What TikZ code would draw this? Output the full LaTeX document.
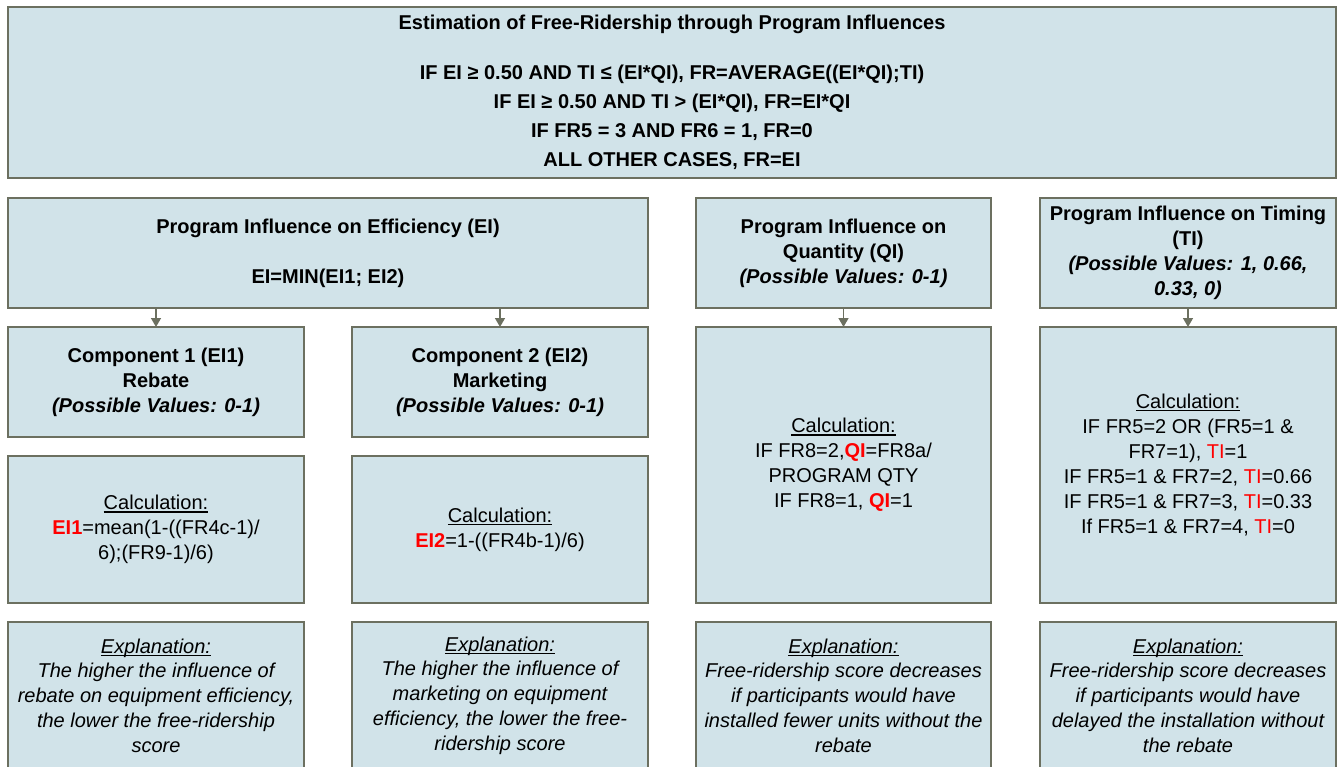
\documentclass[tikz,border=0pt]{standalone}
\usepackage{fontspec}
\setmainfont{Liberation Sans}
\usetikzlibrary{arrows.meta, positioning}
\definecolor{boxfill}{RGB}{209,227,233}
\definecolor{boxline}{RGB}{108,112,96}
\definecolor{rouge}{RGB}{255,0,0}
\newcommand{\rv}[1]{\textcolor{rouge}{\textbf{#1}}}
\newcommand{\rn}[1]{\textcolor{rouge}{#1}}
\newcommand{\souligne}[1]{\setbox0=\hbox{#1}\rlap{\rule[-3pt]{\wd0}{1.3pt}}\box0}

\begin{document}
\begin{tikzpicture}[x=1pt,y=-1pt,
  boite/.style={draw=boxline, line width=1.5pt, fill=boxfill, inner sep=0pt, outer sep=0pt, align=center, font=\fontsize{20}{25}\selectfont},
  fleche/.style={draw=boxline, line width=1.5pt, -{Triangle[length=9pt,width=10pt]}}]
\useasboundingbox (0,0) rectangle (1340,767);

\node[boite, anchor=north west, minimum width=1328, minimum height=171, font=\bfseries\fontsize{20}{29}\selectfont] (FR) at (8,7) {Estimation of Free-Ridership through Program Influences\\[21pt]
IF EI ≥ 0.50 AND TI ≤ (EI*QI), FR=AVERAGE((EI*QI);TI)\\
IF EI ≥ 0.50 AND TI > (EI*QI), FR=EI*QI\\
IF FR5 = 3 AND FR6 = 1, FR=0\\
ALL OTHER CASES, FR=EI};

\node[boite, below=20pt of FR.south west, anchor=north west, minimum width=640, minimum height=110, font=\bfseries\fontsize{20}{25}\selectfont] (EI) {Program Influence on Efficiency (EI)\\[25pt] EI=MIN(EI1; EI2)};
\node[boite, right=48pt of EI.north east, anchor=north west, minimum width=295, minimum height=110, font=\bfseries\fontsize{20}{25}\selectfont] (QI) {Program Influence on\\Quantity (QI)\\\textit{(Possible Values: 0-1)}};
\node[boite, right=49pt of QI.north east, anchor=north west, minimum width=296, minimum height=110, font=\bfseries\fontsize{20}{25}\selectfont] (TI) {Program Influence on Timing\\(TI)\\\textit{(Possible Values: 1, 0.66,}\\\textit{0.33, 0)}};

\node[boite, below=19pt of EI.south west, anchor=north west, minimum width=296, minimum height=110, font=\bfseries\fontsize{20}{25}\selectfont] (C1) {Component 1 (EI1)\\Rebate\\\textit{(Possible Values: 0-1)}};
\node[boite, right=48pt of C1.north east, anchor=north west, minimum width=296, minimum height=110, font=\bfseries\fontsize{20}{25}\selectfont] (C2) {Component 2 (EI2)\\Marketing\\\textit{(Possible Values: 0-1)}};
\node[boite, below=19pt of QI.south west, anchor=north west, minimum width=295, minimum height=276] (Cal3) {\souligne{Calculation:}\\IF FR8=2,\rv{QI}=FR8a/\\PROGRAM QTY\\IF FR8=1, \rv{QI}=1};
\node[boite, below=19pt of TI.south west, anchor=north west, minimum width=296, minimum height=276] (Cal4) {\souligne{Calculation:}\\IF FR5=2 OR (FR5=1 \&\\FR7=1), \rn{TI}=1\\IF FR5=1 \& FR7=2, \rn{TI}=0.66\\IF FR5=1 \& FR7=3, \rn{TI}=0.33\\If FR5=1 \& FR7=4, \rn{TI}=0};

\node[boite, below=19pt of C1.south west, anchor=north west, minimum width=296, minimum height=147] (Cal1) {\souligne{Calculation:}\\\rv{EI1}=mean(1-((FR4c-1)/\\6);(FR9-1)/6)};
\node[boite, below=19pt of C2.south west, anchor=north west, minimum width=296, minimum height=147] (Cal2) {\souligne{Calculation:}\\\rv{EI2}=1-((FR4b-1)/6)};

\node[boite, below=19pt of Cal1.south west, anchor=north west, minimum width=296, minimum height=147, font=\itshape\fontsize{20}{24.75}\selectfont] (Ex1) {\souligne{Explanation:}\\The higher the influence of\\rebate on equipment efficiency,\\the lower the free-ridership\\score};
\node[boite, below=19pt of Cal2.south west, anchor=north west, minimum width=296, minimum height=147, font=\itshape\fontsize{20}{24.75}\selectfont] (Ex2) {\souligne{Explanation:}\\The higher the influence of\\marketing on equipment\\efficiency, the lower the free-\\ridership score};
\node[boite, below=19pt of Cal3.south west, anchor=north west, minimum width=295, minimum height=147, font=\itshape\fontsize{20}{24.75}\selectfont] (Ex3) {\souligne{Explanation:}\\Free-ridership score decreases\\if participants would have\\installed fewer units without the\\rebate};
\node[boite, below=19pt of Cal4.south west, anchor=north west, minimum width=296, minimum height=147, font=\itshape\fontsize{20}{24.75}\selectfont] (Ex4) {\souligne{Explanation:}\\Free-ridership score decreases\\if participants would have\\delayed the installation without\\the rebate};

\draw[fleche] (C1.north |- EI.south) -- (C1.north);
\draw[fleche] (C2.north |- EI.south) -- (C2.north);
\draw[fleche] (QI.south) -- (Cal3.north);
\draw[fleche] (TI.south) -- (Cal4.north);
\end{tikzpicture}
\end{document}
